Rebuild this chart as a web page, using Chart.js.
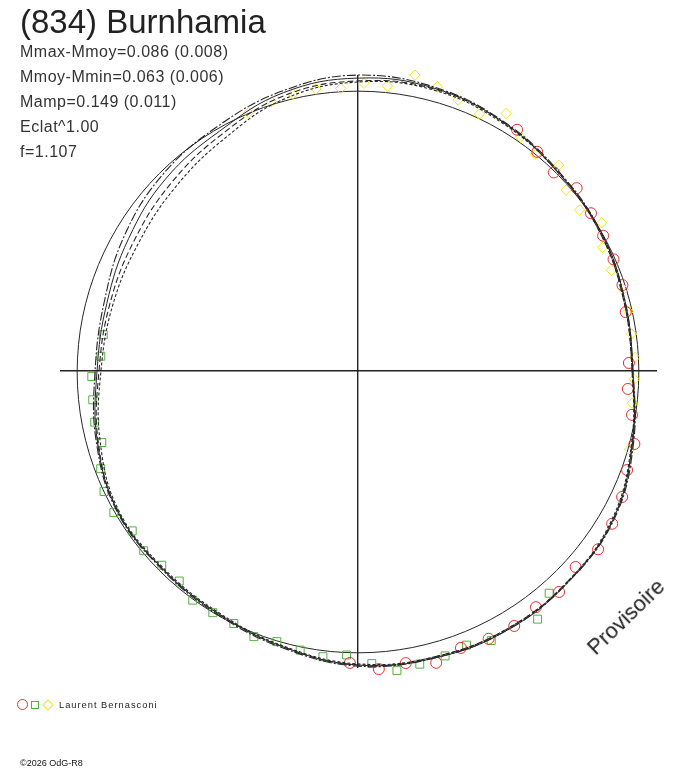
<!DOCTYPE html>
<html>
<head>
<meta charset="utf-8">
<script src="https://cdn.jsdelivr.net/npm/chart.js@4.4.1/dist/chart.umd.min.js"></script>
<style>
  html, body { margin:0; padding:0; background:#fff; }
  #wrap { position:relative; width:688px; height:768px; overflow:hidden; font-family:"Liberation Sans", Arial, sans-serif; color:#222; }
  #c { position:absolute; left:0; top:0; }
  .t { position:absolute; white-space:nowrap; pointer-events:none; }
  #title { left:20px; top:5px; font-size:33px; line-height:33px; color:#222; }
  .stat { left:20px; font-size:16px; line-height:25px; letter-spacing:0.5px; color:#333; }
  #prov { left:626px; top:617px; font-size:22px; line-height:22px; color:#222; transform:translate(-50%,-50%) rotate(-44deg); }
  #legtxt { left:59px; top:698px; font-size:9.3px; line-height:14px; letter-spacing:1px; color:#222; }
  #copy { left:20px; top:757px; font-size:9px; line-height:12px; color:#111; }
  .sym { position:absolute; box-sizing:border-box; }
</style>
</head>
<body>
<div id="wrap">
  <canvas id="c" width="688" height="768"></canvas>
  <div class="t" id="title">(834) Burnhamia</div>
  <div class="t stat" style="top:39px">Mmax-Mmoy=0.086 (0.008)</div>
  <div class="t stat" style="top:64px">Mmoy-Mmin=0.063 (0.006)</div>
  <div class="t stat" style="top:89px">Mamp=0.149 (0.011)</div>
  <div class="t stat" style="top:114px">Eclat^1.00</div>
  <div class="t stat" style="top:139px">f=1.107</div>
  <div class="t" id="prov">Provisoire</div>
  <div class="sym" style="left:17px;top:699px;width:11px;height:11px;border:1px solid #e83030;border-radius:50%"></div>
  <div class="sym" style="left:31px;top:701px;width:8px;height:8px;border:1px solid #55b040"></div>
  <div class="sym" style="left:44px;top:700.5px;width:8px;height:8px;border:1px solid #f2e41a;transform:rotate(45deg)"></div>
  <div class="t" id="legtxt">Laurent Bernasconi</div>
  <div class="t" id="copy">©2026 OdG-R8</div>
</div>
<script>
// Rotational phase (degrees) of the fitted composite curves
const phases = [0,15,30,45,60,75,90,105,120,135,150,165,180,195,210,225,240,255,270,285,300,315,330,345];
// Fitted curves (relative radius, reference circle ~100)
const curveA = [98.2,98.6,100.0,101.1,103.2,105.0,105.7,103.6,100.7,98.9,96.4,93.9,93.9,96.8,99.6,99.6,100.4,102.5,105.4,106.1,106.8,106.4,105.7,101.8];
const curveB = [98.2,98.6,100.0,100.7,102.9,104.6,104.6,102.9,98.9,97.1,94.6,92.9,93.2,96.4,99.3,99.3,100.0,102.1,105.0,106.1,106.8,106.4,105.4,101.4];
const curveC = [97.9,98.2,99.6,100.7,102.9,104.3,103.6,101.8,97.5,94.6,92.5,91.8,92.5,96.1,99.3,99.3,100.0,102.1,105.0,105.7,106.4,106.1,105.4,101.4];
const curveD = [97.9,98.2,99.6,100.7,102.5,103.9,103.2,100.7,95.7,92.5,90.7,90.7,91.8,95.4,98.9,98.9,99.6,101.8,104.6,105.7,106.4,106.1,105.0,101.1];
const refCircle = 100.3;

// Observations: session 1 (red circles)
const redPhase = [56.6,50.7,45.4,39.9,34.1,28.9,23.6,18.0,12.4,1.7,356.2,350.9,345.2,339.8,334.5,329.0,323.4,318.0,312.3,307.0,301.5,296.0,290.4,285.0,279.3,274.0,268.4];
const redR     = [103.2,101.1,99.6,101.8,100.5,100.0,99.6,99.3,97.9,96.8,96.6,99.1,102.1,102.4,104.5,105.9,106.8,104.6,106.7,105.6,106.8,106.4,105.5,107.9,105.7,106.7,104.3];
// session 2 (green squares)
const greenPhase = [171.9,176.7,181.2,186.2,191.0,195.6,200.8,205.4,210.1,215.3,220.0,224.7,229.6,234.2,239.0,243.8,248.6,253.3,258.3,263.0,267.7,272.7,277.4,281.9,287.0,291.6,296.3,305.9,310.7];
const greenR     = [91.9,92.0,95.1,95.3,95.8,95.0,98.3,100.4,100.8,98.8,99.9,98.6,98.5,100.9,100.7,100.5,101.9,100.9,101.8,102.8,101.5,104.6,107.9,107.0,106.4,105.3,107.4,109.4,104.7];
// session 3 (yellow diamonds)
const yellowPhase = [113.0,107.8,103.2,98.5,93.5,88.8,84.1,79.1,74.4,69.7,64.7,60.1,55.2,50.6,45.7,41.0,36.0,31.3,26.8,21.7,17.1,12.4,7.7,2.8,358.3,353.3,343.9];
const yellowR     = [100.2,101.0,101.6,101.8,101.1,102.8,102.3,107.6,105.4,103.2,101.5,106.1,101.7,100.1,102.7,98.5,97.8,101.9,97.9,97.4,99.1,98.8,98.6,99.0,98.7,98.6,100.9];

function toXY(ph, r) {
  const t = ph * Math.PI / 180;
  return { x: r * Math.cos(t), y: r * Math.sin(t) };
}
function points(ph, rr) { return ph.map((p, i) => toXY(p, rr[i])); }
// closed loop: wrap one point on each side, hide the wrap segments
function loop(rr) {
  const n = phases.length;
  const order = [n - 1, ...phases.map((_, i) => i), 0, 1];
  return order.map(i => toXY(phases[i], rr[i]));
}
const lineCol = '#262626';
function curveSet(rr, dash, w) {
  const n = phases.length + 3;
  return {
    type: 'scatter', showLine: true, data: loop(rr), borderColor: lineCol,
    borderWidth: w, borderDash: dash, pointRadius: 0, tension: 0.4, clip: false,
    segment: { borderColor: c => (c.p0DataIndex === 0 || c.p1DataIndex === n - 1) ? 'rgba(0,0,0,0)' : lineCol }
  };
}
function markSet(ph, rr, style, col, rad) {
  return {
    type: 'scatter', data: points(ph, rr), showLine: false, pointStyle: style,
    pointRadius: rad, pointBorderColor: col, pointBackgroundColor: 'rgba(0,0,0,0)',
    pointBorderWidth: 1, clip: false
  };
}

const refCirclePlugin = {
  id: 'refCircle',
  beforeDatasetsDraw(chart) {
    const xs = chart.scales.x, ys = chart.scales.y, ctx = chart.ctx;
    const cx = xs.getPixelForValue(0), cy = ys.getPixelForValue(0);
    const r = xs.getPixelForValue(refCircle) - cx;
    ctx.save();
    ctx.beginPath();
    ctx.arc(cx, cy + 1, r, 0, Math.PI * 2);
    ctx.strokeStyle = lineCol; ctx.lineWidth = 1;
    ctx.stroke();
    ctx.restore();
  }
};

const axisOpts = (min, max) => ({
  type: 'linear', min, max,
  afterBuildTicks: s => { s.ticks = [{ value: 0 }]; },
  ticks: { display: false },
  grid: { color: '#222', lineWidth: 1.4, drawTicks: false },
  border: { display: false }
});

new Chart(document.getElementById('c'), {
  type: 'scatter',
  data: {
    datasets: [
      curveSet(curveA, [9, 2, 2, 2], 1.1),
      curveSet(curveB, [], 1),
      curveSet(curveC, [6, 3], 1.1),
      curveSet(curveD, [3, 2], 1.1),
      markSet(redPhase, redR, 'circle', '#e83030', 5.5),
      markSet(greenPhase, greenR, 'rect', '#55b040', 5.6),
      markSet(yellowPhase, yellowR, 'rectRot', '#f2e41a', 5.2)
    ]
  },
  options: {
    responsive: false, animation: false, devicePixelRatio: 1,
    layout: { padding: { left: 60, right: 31, top: 75, bottom: 100 } },
    plugins: { legend: { display: false }, tooltip: { enabled: false }, title: { display: false } },
    scales: { x: axisOpts(-106.43, 106.79), y: axisOpts(-106.07, 105.71) }
  },
  plugins: [refCirclePlugin]
});
</script>
</body>
</html>
